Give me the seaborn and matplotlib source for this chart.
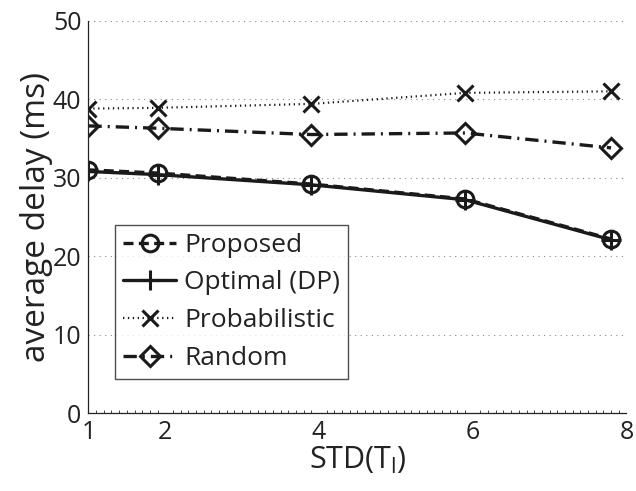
import matplotlib
matplotlib.use("Agg")
import matplotlib.pyplot as plt
import seaborn as sns
import pandas as pd
from matplotlib.ticker import MultipleLocator

x_std = [1, 1.9, 3.9, 5.9, 7.8]
proposed = [31.0, 30.6, 29.2, 27.3, 22.2]
optimal = [30.8, 30.4, 29.1, 27.2, 22.1]
probabilistic = [38.8, 38.9, 39.4, 40.8, 41.0]
random_ = [36.6, 36.3, 35.5, 35.7, 33.8]
series_names = ["Proposed", "Optimal (DP)", "Probabilistic", "Random"]
x_ticks = [1, 2, 4, 6, 8]
y_ticks = [0, 10, 20, 30, 40, 50]

sns.set_theme(style="white")
plt.rcParams['font.family'] = ['Open Sans', 'DejaVu Sans']
plt.rcParams['mathtext.fontset'] = 'custom'
plt.rcParams['mathtext.rm'] = 'Open Sans'
plt.rcParams['mathtext.it'] = 'Open Sans'

fig = plt.figure(figsize=(6.36, 4.91), dpi=100)
ax = fig.add_axes([0.139, 0.158, 0.846, 0.80])

ink = "#1a1a1a"
styles = [
    (proposed, (0, (3.0, 1.6)), "o", 12, 2.4),
    (optimal, "-", "+", 14, 2.4),
    (probabilistic, (0, (0.6, 1.6)), "x", 11, 1.6),
    (random_, (0, (4.0, 1.8, 0.6, 1.8)), "D", 10, 2.4),
]
for (vals, ls, mk, ms, lw), name in zip(styles, series_names):
    df = pd.DataFrame({"x": x_std, "y": vals})
    sns.lineplot(data=df, x="x", y="y", ax=ax, color=ink, linestyle=ls,
                 linewidth=lw, marker=mk, markersize=ms, markerfacecolor="none",
                 markeredgecolor=ink, markeredgewidth=2.2, label=name)

ax.set_xlim(1, 8)
ax.set_ylim(0, 50)
ax.set_xticks(x_ticks)
ax.set_yticks(y_ticks)
ax.xaxis.set_minor_locator(MultipleLocator(0.1))
ax.tick_params(axis="both", which="major", direction="in", length=5, width=0.8,
               labelsize=18, colors="#222222", pad=5)
ax.tick_params(axis="x", which="minor", direction="in", length=2.5, width=0.6, bottom=True)
ax.yaxis.grid(True, linestyle=(0, (1, 4)), color="#888888", linewidth=0.8)
ax.xaxis.grid(False)
for s in ["top", "right"]:
    ax.spines[s].set_visible(False)
for s in ["left", "bottom"]:
    ax.spines[s].set_color("#222222")
    ax.spines[s].set_linewidth(0.9)

ax.set_xlabel("STD(T$_l$)", fontsize=22, color="#222222", labelpad=0)
ax.set_ylabel("average delay (ms)", fontsize=24, color="#222222", labelpad=0)

leg = ax.legend(loc="upper left", bbox_to_anchor=(0.05, 0.48), fontsize=19,
                frameon=True, fancybox=False, edgecolor="#222222",
                handlelength=2.0, handletextpad=0.3, borderpad=0.3, labelspacing=0.48,
                borderaxespad=0)
leg.get_frame().set_linewidth(1.0)
for t in leg.get_texts():
    t.set_color("#222222")

fig.savefig("out.png", dpi=100)
